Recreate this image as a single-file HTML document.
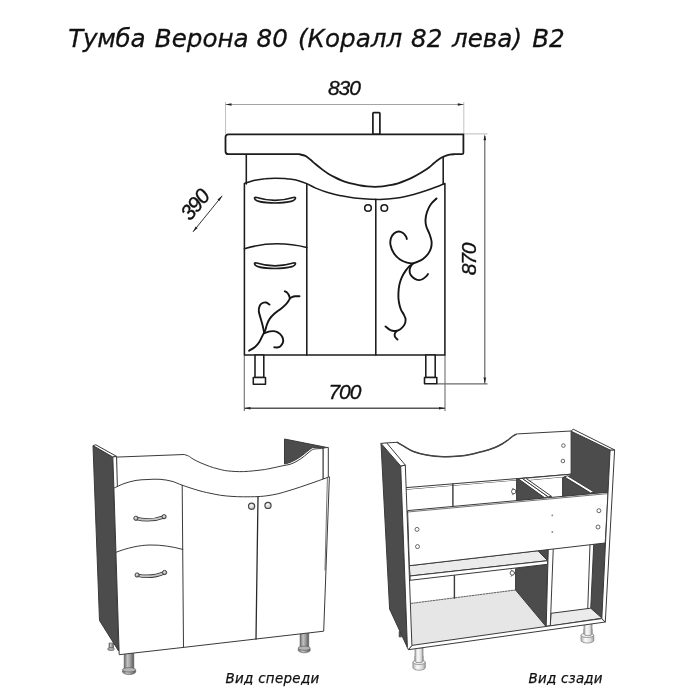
<!DOCTYPE html>
<html lang="ru">
<head>
<meta charset="utf-8">
<title>Тумба Верона 80 (Коралл 82 лева) В2</title>
<style>
html,body{margin:0;padding:0;background:#fff;}
body{width:700px;height:700px;overflow:hidden;position:relative;}
svg{position:absolute;left:0;top:0;display:block;will-change:transform;}
text{font-family:"DejaVu Sans","Liberation Sans",sans-serif;font-style:italic;fill:#111;stroke:#111;stroke-width:0.3;}
.o{fill:none;stroke:#1c1c1c;stroke-width:1.55;stroke-linecap:round;stroke-linejoin:round;}
.w{fill:#fff;stroke:#1c1c1c;stroke-width:1.55;stroke-linejoin:round;}
.d{fill:none;stroke:#6a6a6a;stroke-width:0.9;}
.n{font-family:"Liberation Sans",sans-serif;font-size:21px;stroke:#111;stroke-width:0.35;letter-spacing:-1.1px;}
.orn{fill:none;stroke:#151515;stroke-width:1.9;stroke-linecap:round;stroke-linejoin:round;}
.ar{fill:#222;stroke:none;}
.k{fill:#fff;stroke:#3a3a3a;stroke-width:1;stroke-linejoin:round;}
.kd{fill:#4c4c4c;stroke:#3a3a3a;stroke-width:1;stroke-linejoin:round;}
.kg{fill:#ebebeb;stroke:#3a3a3a;stroke-width:1;stroke-linejoin:round;}
.kl{fill:none;stroke:#3a3a3a;stroke-width:1;stroke-linecap:round;stroke-linejoin:round;}
.lbl{font-size:13.4px;stroke-width:0.25;}

</style>
</head>
<body>
<svg width="700" height="700" viewBox="0 0 700 700">
<rect width="700" height="700" fill="#fff"/>
<!-- TITLE -->
<text id="title" y="47" font-size="24.6"><tspan x="68.3" letter-spacing="-0.3">Тумба </tspan><tspan x="154.8">Верона </tspan><tspan x="256.6">80 </tspan><tspan x="298">(Коралл </tspan><tspan x="411">82 </tspan><tspan x="452">лева) </tspan><tspan x="532.2">В2</tspan></text>

<!-- ===== TOP FRONT ELEVATION ===== -->
<g id="elev">
<!-- dimension lines -->
<path class="d" style="stroke:#bcbcbc" d="M225.5 102V134M463.8 102V134"/><path class="d" style="stroke:#999" d="M225.5 104.5H463.8"/>
<path class="ar" d="M225.5 104.5l6-1.3v2.6zM463.8 104.5l-6-1.3v2.6z"/>
<text id="t830" class="n" x="328" y="95.3" >830</text>
<path class="d" style="stroke:#b4b4b4" d="M463.3 133.9H487.5"/><path class="d" style="stroke:#6a6a6a;stroke-width:1.2" d="M436.8 383.8H487.5"/><path class="d" style="stroke:#666;stroke-width:1.2" d="M484.8 136V383.8"/>
<path class="ar" d="M484.8 134.2l-1.3 6h2.6zM484.8 383.6l-1.3-6h2.6z"/>
<text id="t870" class="n" transform="translate(475.6 275.3) rotate(-90)" >870</text>
<path class="d" style="stroke:#707070;stroke-width:1.1" d="M244.3 355V411M445 355V411"/><path class="d" style="stroke:#555;stroke-width:1.4" d="M244.3 408.2H445"/>
<path class="ar" d="M244.5 408.2l6-1.3v2.6zM445 408.2l-6-1.3v2.6z"/>
<text id="t700" class="n" x="328.5" y="398.9" >700</text>
<path class="d" style="stroke:#333;stroke-width:1" d="M193 231.8L222.2 195.8"/>
<path class="ar" d="M193 231.8l4.7-3.7-2-1.6zM222.2 195.8l-4.7 3.7 2 1.6z"/>
<text id="t390" class="n" transform="translate(190.2 221.6) rotate(-50.5)" >390</text>

<!-- faucet -->
<rect class="w" style="stroke-width:1.7" x="372.9" y="112.6" width="7" height="21.7" rx="0.8"/>
<!-- body sides -->
<path class="o" d="M246.3 154V184M443.2 157V184"/>
<!-- sink -->
<path class="w" style="stroke-width:1.8" d="M228.5 134.3H463.4V152.8Q463.4 154.2 461.9 154.2H455C454.1 154.3 451.6 154.2 449.6 154.6C447.6 155.0 444.8 156.1 443.1 156.8C441.4 157.5 440.8 157.9 439.3 158.9C437.8 159.9 435.8 161.6 434.1 163.0C432.4 164.4 431.1 165.9 429.0 167.5C426.9 169.1 423.9 171.0 421.3 172.6C418.7 174.2 416.2 175.6 413.6 176.9C411.0 178.2 408.5 179.3 405.9 180.4C403.3 181.5 400.7 182.5 398.1 183.3C395.5 184.1 393.0 184.6 390.4 185.1C387.8 185.6 385.3 186.1 382.7 186.4C380.1 186.7 377.6 186.8 375.0 186.8C372.4 186.8 369.5 186.6 367.1 186.4C364.7 186.2 362.8 185.9 360.7 185.5C358.6 185.1 356.4 184.7 354.3 184.2C352.2 183.7 350.0 183.3 347.9 182.7C345.8 182.1 343.5 181.3 341.4 180.4C339.2 179.5 337.1 178.5 335.0 177.4C332.9 176.3 330.8 175.2 328.6 173.9C326.5 172.6 324.2 171.0 322.1 169.4C320.0 167.8 317.6 165.9 315.7 164.3C313.8 162.7 312.3 161.2 310.6 159.8C308.9 158.4 307.3 156.8 305.4 155.9C303.5 155.0 300.1 154.5 299.0 154.2H228.5Q225.5 154.2 225.5 151.2V137.3Q225.5 134.3 228.5 134.3Z"/>
<!-- drawers + doors outline -->
<path class="o" d="M244.4 355V183.5C246.2 183.0 251.6 181.1 255.0 180.3C258.4 179.5 261.7 179.0 265.0 178.7C268.3 178.3 271.7 178.2 275.0 178.2C278.3 178.2 282.5 178.4 285.0 178.6C287.5 178.8 287.9 178.8 290.0 179.1C292.1 179.4 294.9 179.7 297.7 180.4C300.5 181.2 303.7 182.3 306.7 183.6C309.7 184.9 312.0 186.6 315.7 188.1C319.4 189.6 324.3 191.5 328.6 192.8C332.9 194.1 337.1 194.9 341.4 195.8C345.7 196.7 350.0 197.5 354.3 198.0C358.6 198.5 362.8 198.8 367.1 199.0C371.4 199.2 376.5 199.4 380.0 199.4C383.5 199.4 384.4 199.3 387.9 199.0C391.3 198.7 396.4 198.2 400.7 197.5C405.0 196.8 409.3 195.7 413.6 194.5C417.9 193.3 422.5 191.9 426.4 190.6C430.2 189.3 433.6 188.0 436.7 186.8C439.8 185.6 443.5 184.1 444.9 183.6V355Z"/>
<path class="o" d="M306.8 183.8V355M375.8 199.3V355"/>
<path class="o" d="M244.4 248.8C255 245.5 266 243.8 277 243.8C288 243.8 298 245.3 306.8 247.6"/>
<!-- handles -->
<path class="w" style="stroke-width:1.7" d="M254.7 198.8C254.2 197.5 255.2 197 256.7 197.5C268 201 282 201 293.3 197.5C294.8 197 295.8 197.5 295.3 198.8C294.3 201.5 285 203 275 203C265 203 255.7 201.5 254.7 198.8Z"/>
<path class="w" style="stroke-width:1.7" d="M254.7 264.3C254.2 263 255.2 262.5 256.7 263C268 266.5 282 266.5 293.3 263C294.8 262.5 295.8 263 295.3 264.3C294.3 267 285 268.5 275 268.5C265 268.5 255.7 267 254.7 264.3Z"/>
<!-- knobs -->
<circle class="w" cx="368" cy="208" r="3.3"/>
<circle class="w" cx="384.3" cy="208" r="3.3"/>
<!-- legs -->
<path class="w" d="M255 355H263.8V377.5H255Z"/>
<path class="w" d="M253.3 377.5H265.5V384.2H253.3Z"/>
<path class="w" d="M425.8 355H435.2V377.5H425.8Z"/>
<path class="w" d="M424.5 377.5H436.8V383.8H424.5Z"/>
<!-- ornament left -->
<path class="orn" d="M249.1 350.7C250.1 350.1 253.3 348.4 255.0 347.0C256.7 345.6 258.0 344.2 259.3 342.1C260.6 340.0 262.0 336.6 263.0 334.6C264.0 332.7 264.6 332.0 265.2 330.4C265.8 328.8 266.1 326.9 266.8 325.0C267.5 323.1 268.2 321.0 269.5 319.1C270.8 317.2 272.4 315.5 274.3 313.8C276.2 312.1 278.7 310.5 280.7 308.9C282.7 307.3 284.8 305.5 286.1 304.1C287.5 302.7 288.2 301.4 288.8 300.4C289.4 299.4 289.8 299.1 289.8 298.2C289.8 297.3 289.2 295.9 288.8 295.0C288.4 294.1 287.8 293.2 287.1 292.6C286.4 292.0 285.2 291.5 284.8 291.2"/>
<path class="orn" d="M289.8 298.5C290.2 298.3 291.1 297.5 292.0 297.1C292.9 296.7 293.9 296.4 295.2 296.3C296.4 296.2 298.8 296.3 299.5 296.3"/>
<path class="orn" d="M264.3 333.0C264.0 331.7 263.1 327.6 262.5 325.0C261.9 322.4 261.0 319.8 260.4 317.5C259.8 315.2 258.9 313.1 258.8 311.1C258.6 309.1 259.2 307.1 259.8 305.7C260.4 304.3 261.4 303.5 262.5 303.0C263.6 302.5 265.1 302.2 266.2 302.5C267.4 302.8 269.0 304.2 269.5 304.6"/>
<path class="orn" d="M264.6 333.0C265.5 332.7 268.2 331.7 270.0 331.4C271.8 331.1 273.7 330.9 275.4 331.4C277.1 331.8 278.9 332.9 280.2 334.1C281.4 335.3 282.4 337.0 282.9 338.4C283.3 339.8 283.3 341.4 282.9 342.7C282.4 344.0 281.2 345.6 280.2 346.4C279.2 347.2 278.0 347.4 277.0 347.5C276.0 347.6 274.8 347.3 274.3 347.3"/>
<path class="orn" d="M436.5 198.5C435.6 199.4 432.6 201.8 431.0 204.0C429.4 206.2 427.9 209.3 427.0 212.0C426.1 214.7 425.6 217.5 425.5 220.0C425.4 222.5 425.8 224.7 426.5 227.0C427.2 229.3 428.7 231.7 429.5 234.0C430.3 236.3 431.2 238.7 431.5 241.0C431.8 243.3 431.6 245.8 431.0 248.0C430.4 250.2 429.3 252.2 428.0 254.0C426.7 255.8 424.8 257.7 423.0 259.0C421.2 260.3 418.7 261.3 417.0 262.0C415.3 262.7 414.7 263.2 413.0 263.3C411.3 263.4 409.2 263.2 407.0 262.6C404.8 262.0 402.2 261.0 400.0 259.5C397.8 258.0 395.6 255.9 394.0 253.5C392.4 251.1 391.0 247.6 390.5 245.0C390.0 242.4 390.4 239.9 391.0 238.0C391.6 236.1 392.8 234.6 394.0 233.5C395.2 232.4 397.0 231.6 398.5 231.5C400.0 231.4 401.8 232.2 403.0 233.0C404.2 233.8 405.4 235.5 406.0 236.5C406.6 237.5 406.7 238.6 406.8 239.0"/>
<path class="orn" d="M412.9 263.7C412.4 264.1 410.9 264.8 409.7 265.9C408.5 267.0 407.2 268.6 405.9 270.4C404.6 272.2 403.1 274.5 402.0 276.9C400.9 279.3 400.0 281.8 399.4 284.6C398.8 287.4 398.5 290.8 398.4 293.6C398.3 296.4 398.4 298.7 398.8 301.3C399.2 303.9 399.9 306.8 400.7 309.0C401.5 311.2 403.1 313.1 403.9 314.8C404.7 316.5 405.5 317.7 405.6 319.3C405.7 320.9 405.4 322.8 404.6 324.4C403.8 326.0 402.2 327.8 400.7 328.9C399.2 330.0 397.3 330.7 395.6 330.9C393.9 331.1 392.1 330.9 390.4 330.2C388.7 329.4 386.3 327.0 385.5 326.4"/>
<path class="orn" d="M396.9 330.9C396.6 331.3 395.2 332.4 394.9 333.4C394.6 334.3 394.5 335.6 394.9 336.6C395.3 337.6 397.1 339.1 397.5 339.6"/>
<path class="orn" d="M412.3 264.0C411.9 264.6 410.4 266.5 410.0 267.9C409.6 269.3 409.4 271.0 409.7 272.4C410.0 273.8 410.7 275.1 411.6 276.2C412.5 277.3 413.6 278.1 414.9 278.8C416.2 279.5 418.0 280.1 419.4 280.1C420.8 280.1 422.0 279.5 423.2 278.8C424.4 278.1 425.6 277.0 426.4 276.2C427.2 275.4 427.7 274.4 428.0 274.0"/>
</g>

<!-- ===== FRONT 3D VIEW ===== -->
<defs>
<linearGradient id="cyl" x1="0" x2="1" y1="0" y2="0"><stop offset="0" stop-color="#6a6a6a"/><stop offset="0.35" stop-color="#c4c4c4"/><stop offset="0.65" stop-color="#9a9a9a"/><stop offset="1" stop-color="#585858"/></linearGradient>
<radialGradient id="knob" cx="0.4" cy="0.35" r="0.7"><stop offset="0" stop-color="#ffffff"/><stop offset="1" stop-color="#b8b8b8"/></radialGradient>
<radialGradient id="knob2" cx="0.4" cy="0.35" r="0.7"><stop offset="0" stop-color="#e8e8e8"/><stop offset="1" stop-color="#8c8c8c"/></radialGradient>
<linearGradient id="cylL" x1="0" x2="1" y1="0" y2="0"><stop offset="0" stop-color="#b4b4b4"/><stop offset="0.35" stop-color="#fbfbfb"/><stop offset="0.7" stop-color="#e2e2e2"/><stop offset="1" stop-color="#a4a4a4"/></linearGradient>
</defs>
<g id="front3d">
<!-- legs behind -->
<path d="M109 643h4.5v5.5h-4.5z" fill="url(#cyl)" stroke="#555" stroke-width="0.6"/>
<ellipse cx="111" cy="649" rx="3.4" ry="1.6" fill="#aaa" stroke="#555" stroke-width="0.6"/>
<g id="legFL"><path d="M124.2 653V669H133.8V653Z" fill="url(#cyl)" stroke="#555" stroke-width="0.6"/><ellipse cx="129.1" cy="671.6" rx="6.7" ry="2.9" fill="url(#cyl)" stroke="#555" stroke-width="0.6"/><ellipse cx="129.1" cy="669.8" rx="6.7" ry="2.2" fill="#b4b4b4" stroke="#555" stroke-width="0.6"/></g>
<g id="legFR"><path d="M300.1 632V647.4H308.7V632Z" fill="url(#cyl)" stroke="#555" stroke-width="0.6"/><ellipse cx="304.2" cy="650" rx="6.1" ry="2.8" fill="url(#cyl)" stroke="#555" stroke-width="0.6"/><ellipse cx="304.2" cy="648.2" rx="6.1" ry="2.1" fill="#b4b4b4" stroke="#555" stroke-width="0.6"/></g>
<!-- right panel inner (dark) -->
<path class="kd" d="M284.5 439L327.5 447.6L313 447.6C312.7 447.7 312.0 447.7 311.0 448.4C310.0 449.1 308.5 450.4 307.0 451.6C305.5 452.8 303.8 454.3 302.0 455.6C300.2 456.9 298.0 458.4 296.0 459.5C294.0 460.6 291.9 461.6 290.0 462.4C288.1 463.1 285.4 463.7 284.5 464.0Z"/>

<!-- front rail -->
<path class="k" d="M116.5 457.1L184.1 454.5C184.8 454.8 187.0 455.2 188.5 456.0C190.0 456.8 191.2 458.0 193.3 459.2C195.4 460.4 198.3 461.8 201.0 463.0C203.7 464.2 206.5 465.3 209.3 466.3C212.1 467.3 214.9 468.1 218.0 468.9C221.1 469.7 223.3 470.4 227.6 470.9C231.9 471.3 237.9 471.8 243.6 471.6C249.3 471.4 257.5 470.4 261.9 469.9C266.3 469.4 267.3 469.0 270.0 468.5C272.7 468.0 275.6 467.3 277.9 466.8C280.2 466.3 282.0 465.9 284.0 465.5C286.0 465.1 288.0 464.9 290.0 464.3C292.0 463.7 294.0 462.8 296.0 461.7C298.0 460.6 300.2 459.2 302.0 457.9C303.8 456.6 305.5 455.1 307.0 453.9C308.5 452.7 309.8 451.4 311.0 450.6C312.2 449.8 312.5 449.4 314.5 449.0C316.5 448.6 321.8 448.6 323.2 448.5V479L300 500L184 500L116.5 488Z"/>

<!-- right panel front edge strip -->
<path class="k" d="M323.2 448L328.3 447.4V478L323.2 479Z"/>
<!-- left side panel -->
<path class="kd" d="M93 445.6L112.8 457L118.6 651L99.5 620.5Z"/>
<path class="k" d="M93 445.6L95.8 444.8L116.6 456.4L112.8 457Z"/>
<path class="k" d="M112.8 457L116.6 456.4L117.4 488L113.9 488.4Z"/>
<!-- fronts -->
<path class="k" d="M113.9 488.2C115.6 487.4 120.3 484.9 124.0 483.6C127.7 482.3 132.0 481.1 136.0 480.4C140.0 479.7 144.0 479.7 148.0 479.5C152.0 479.3 156.0 479.0 160.0 479.3C164.0 479.6 168.3 480.3 172.0 481.3C175.7 482.3 177.9 483.7 182.2 485.2C186.5 486.7 193.4 489.0 197.9 490.3C202.4 491.6 205.2 492.2 209.0 493.0C212.8 493.8 216.9 494.7 220.7 495.3C224.5 495.9 228.2 496.1 232.0 496.4C235.8 496.6 239.3 496.8 243.6 496.8C247.9 496.8 253.6 496.8 257.7 496.6C261.8 496.4 264.6 496.1 268.0 495.6C271.4 495.1 274.4 494.6 277.9 493.8C281.4 493.0 285.2 491.8 289.0 490.6C292.8 489.5 296.9 488.2 300.7 486.9C304.5 485.6 308.2 484.3 312.0 483.0C315.8 481.7 320.7 479.9 323.6 478.9C326.5 477.9 328.4 477.1 329.4 476.8L323.7 631.2L256 639L183.5 647.4L119.2 654.7Z"/>
<path class="kl" d="M327.4 477.8L325 570" style="stroke-width:0.7"/>
<path class="kl" d="M182.2 485.2L183.5 647.4"/><path class="kl" style="stroke-width:1.3;stroke:#2a2a2a" d="M258 496.6L256 639"/>
<path class="kl" d="M116 552.3C127 548 139 545.2 150 545C161 544.8 172 546.5 182.8 549.4"/>
<!-- handles -->
<g id="h1"><path d="M135.9 518.4C145 520.8 155 520.2 164.1 516.8" fill="none" stroke="#333" stroke-width="3.4"/><path d="M135.9 518.4C145 520.8 155 520.2 164.1 516.8" fill="none" stroke="#c4c4c4" stroke-width="1.9"/><circle cx="135.9" cy="518.3" r="2.1" fill="url(#knob2)" stroke="#333" stroke-width="0.9"/><circle cx="164.1" cy="516.7" r="2.1" fill="url(#knob2)" stroke="#333" stroke-width="0.9"/></g>
<g id="h2"><path d="M137.1 575.1C146 577.2 156 576.4 164.6 572.6" fill="none" stroke="#333" stroke-width="3.4"/><path d="M137.1 575.1C146 577.2 156 576.4 164.6 572.6" fill="none" stroke="#c4c4c4" stroke-width="1.9"/><circle cx="137.1" cy="575" r="2.1" fill="url(#knob2)" stroke="#333" stroke-width="0.9"/><circle cx="164.6" cy="572.5" r="2.1" fill="url(#knob2)" stroke="#333" stroke-width="0.9"/></g>
<circle cx="251.6" cy="506.2" r="3.1" fill="url(#knob)" stroke="#484848" stroke-width="1.2"/>
<circle cx="268" cy="505.4" r="3.1" fill="url(#knob)" stroke="#484848" stroke-width="1.2"/>
<text class="lbl" id="lblF" x="225.5" y="683" letter-spacing="0.32">Вид спереди</text>
</g>
<!-- ===== REAR 3D VIEW ===== -->
<g id="rear3d">
<path d="M399 631.5h2.6v5.5h-2.6z" fill="#555" stroke="#444" stroke-width="0.5"/>
<g id="legRL"><path d="M415 648V662.5H423V648Z" fill="url(#cylL)" stroke="#666" stroke-width="0.6"/><path d="M412.9 662.2V667.6A6.2 2.6 0 0 0 425.3 667.6V662.2Z" fill="url(#cylL)" stroke="#666" stroke-width="0.6"/><ellipse cx="419.1" cy="662.2" rx="6.2" ry="2.3" fill="#f0f0f0" stroke="#666" stroke-width="0.6"/><path d="M415 661.2A4 1.4 0 0 0 423 661.2V656H415Z" fill="url(#cylL)"/><path d="M415 656V661.2A4 1.4 0 0 0 423 661.2V656" fill="none" stroke="#666" stroke-width="0.6"/></g>
<g id="legRR"><path d="M584 621V635H592V621Z" fill="url(#cylL)" stroke="#666" stroke-width="0.6"/><path d="M581 635.2V640.4A6.4 2.6 0 0 0 593.8 640.4V635.2Z" fill="url(#cylL)" stroke="#666" stroke-width="0.6"/><ellipse cx="587.4" cy="635.2" rx="6.4" ry="2.3" fill="#f0f0f0" stroke="#666" stroke-width="0.6"/><path d="M584 634.2A4 1.4 0 0 0 592 634.2V629H584Z" fill="url(#cylL)"/><path d="M584 629V634.2A4 1.4 0 0 0 592 634.2V629" fill="none" stroke="#666" stroke-width="0.6"/></g>
<path class="kd" d="M571.1 431.2L610.1 450L608 494L571.1 497Z"/>
<path class="k" d="M386.7 442.9L397.3 442.3C398.1 442.8 399.8 443.9 402.4 445.4C405.0 446.9 408.7 449.6 412.7 451.2C416.7 452.8 421.2 454.0 426.4 454.9C431.5 455.8 438.0 456.5 443.6 456.7C449.2 456.9 455.6 456.4 460.0 456.0C464.4 455.6 466.7 455.2 470.0 454.5C473.3 453.8 477.0 452.8 480.0 452.0C483.0 451.2 485.5 450.8 488.0 450.0C490.5 449.2 492.7 448.5 495.0 447.5C497.3 446.5 499.8 445.2 502.0 444.0C504.2 442.8 506.2 441.3 508.0 440.0C509.8 438.7 511.7 436.9 513.0 436.0C514.3 435.1 515.5 434.6 516.0 434.3L517.5 433.9L571.1 431L571.1 476L404 490Z"/>
<path class="kl" style="stroke-width:1.5;stroke:#444" d="M397.3 442.3C398.1 442.8 399.8 443.9 402.4 445.4C405.0 446.9 408.7 449.6 412.7 451.2C416.7 452.8 421.2 454.0 426.4 454.9C431.5 455.8 438.0 456.5 443.6 456.7C449.2 456.9 455.6 456.4 460.0 456.0C464.4 455.6 466.7 455.2 470.0 454.5C473.3 453.8 477.0 452.8 480.0 452.0C483.0 451.2 485.5 450.8 488.0 450.0C490.5 449.2 492.7 448.5 495.0 447.5C497.3 446.5 499.8 445.2 502.0 444.0C504.2 442.8 506.2 441.3 508.0 440.0C509.8 438.7 511.7 436.9 513.0 436.0C514.3 435.1 515.5 434.6 516.0 434.3"/>
<path d="M404 490L571.1 476L571.1 497L404 512Z" fill="#fff"/>
<path class="kl" d="M406.4 487.6L571.1 474.2"/>
<path class="kl" style="stroke-width:1.4" d="M452.9 484V506.5"/>
<path class="k" d="M516.6 479L571.1 474.2L571.1 476.6L522.3 481.2Z"/>
<path d="M524 481L571.1 476.6V497L545 499Z" fill="#fff"/>
<path class="kd" d="M516.6 479.2L519.2 479L544.3 497.4L544 500L516.6 502Z"/>
<path class="k" d="M518.3 478.8L522.3 478.4L548.2 496.8L544.4 497.6Z"/>
<path class="k" d="M522.3 478.4L525.7 478.1L551.6 496.4L548.2 496.8Z"/>
<path class="kd" d="M562.6 477.6L565 477.2L591 493.2L591 496L562.6 498Z"/>
<path class="kd" d="M567.5 476L571.1 474.6L608.1 492.2L594 493.6Z" style="stroke:none"/>
<path class="k" d="M564.2 476.8L567.6 475.8L593.8 491.8L590.6 493Z"/>
<g class="kl" style="stroke-width:0.8"><circle cx="513.8" cy="491.5" r="2.3" fill="#fff"/><path d="M512.6 488.2l1 1.2M512.6 494.9l1-1.2"/></g>
<path class="kd" d="M593.75 544L605.2 542.6L602 617.8L590.75 608.25Z"/>
<path class="kg" d="M551 613.3L590.75 608.2L602 618.2L550.3 626Z"/>
<path class="kl" d="M590 544.5L587.75 608.6"/>
<path d="M411 603.4L515.6 590L545.8 626.4L411.9 645.4Z" fill="#e6e6e6"/>
<path class="kl" d="M411 603.4L515.6 590" stroke-dasharray="1.6 1.2" style="stroke-width:0.8"/>
<path class="kl" style="stroke-width:1.4" d="M454.4 575V598"/>
<path class="kd" d="M515.6 568.4L547.6 564.3L546.3 626L545.6 626L515.6 590Z"/>
<g class="kl" style="stroke-width:0.8"><circle cx="512.3" cy="573" r="2.2" fill="#fff"/><path d="M511.2 569.8l1 1.2M511.2 576.3l1-1.2"/></g>
<path class="kd" d="M537 550.4L548.3 549L547.9 561Z"/>
<path class="kg" d="M409.3 565.7L537.9 550.7L547.6 560.7L410.1 576Z"/>
<path class="k" d="M410.1 576L547.6 560.7L547.5 564.3L410.1 580.3Z"/>
<path class="k" d="M548.3 548L553.3 547.4L550.3 625.6L546.2 626.3Z"/>
<path class="k" d="M407.6 510.6L608.1 492.2L605.2 543L409.3 565.7Z"/>
<path class="kl" d="M407.6 512L608 493.6" style="stroke-width:0.7"/>
<circle cx="417" cy="529.4" r="2" fill="#fff" stroke="#444" stroke-width="0.8"/>
<circle cx="417.5" cy="546.6" r="2" fill="#fff" stroke="#444" stroke-width="0.8"/>
<circle cx="598.9" cy="510.7" r="2" fill="#fff" stroke="#444" stroke-width="0.8"/>
<circle cx="598" cy="527" r="2" fill="#fff" stroke="#444" stroke-width="0.8"/>
<circle cx="563.4" cy="445.6" r="1.8" fill="#fff" stroke="#444" stroke-width="0.8"/>
<circle cx="562.9" cy="461" r="1.8" fill="#fff" stroke="#444" stroke-width="0.8"/>
<circle cx="552.3" cy="515.4" r="0.9" fill="#888"/>
<circle cx="552.3" cy="532" r="0.9" fill="#888"/>
<path class="k" d="M411.9 645.4L601.8 618.6L605.3 622L408.4 649.7Z"/>
<path class="k" d="M610.1 450L614.6 449.9L605.3 622L601.8 618.6Z"/>
<path class="k" d="M571.1 431.2L573.2 429.2L614.6 449.9L610.1 450Z"/>
<path class="kd" d="M381 443.4L400.7 466L407.4 647.5L389.6 609Z"/>
<path class="k" d="M400.7 466L405.3 465.1L411.9 645.4L408.4 649.7L407.4 647.5Z"/>
<path class="k" d="M381 443.4L386.7 442.9L405.3 465.1L400.7 466Z"/>
<text class="lbl" id="lblR" x="528.5" y="683" letter-spacing="0.25">Вид сзади</text>
</g>
</svg>
</body>
</html>
